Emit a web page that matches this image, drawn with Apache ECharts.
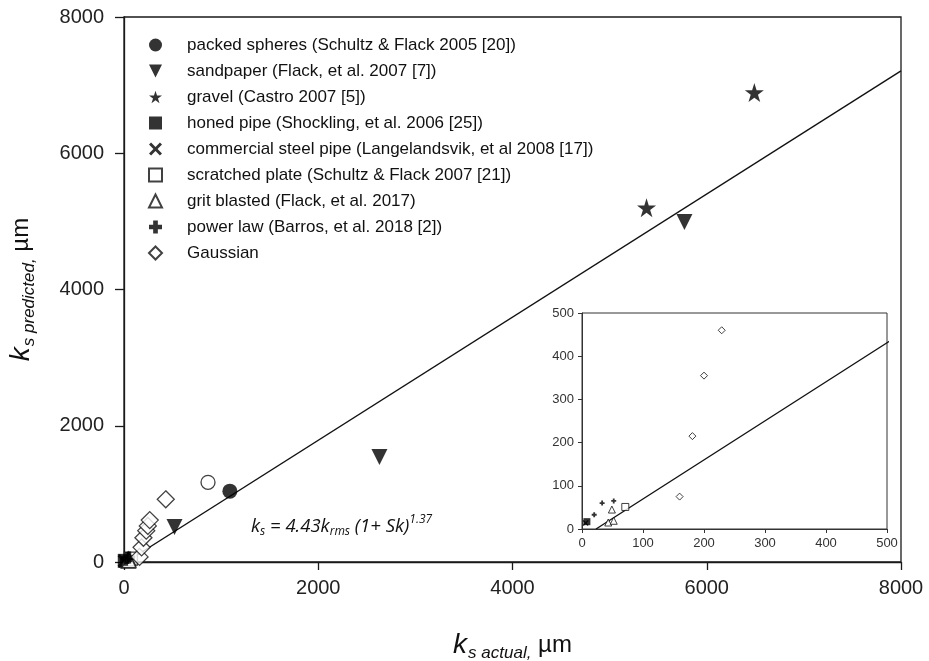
<!DOCTYPE html>
<html>
<head>
<meta charset="utf-8">
<script src="https://cdn.jsdelivr.net/npm/echarts@6/dist/echarts.min.js"></script>
<style>
  html, body { margin: 0; padding: 0; background: #fff; }
  #chart { width: 929px; height: 661px; }
</style>
</head>
<body>
<div id="chart"></div>
<script>
// Equivalent sand-grain roughness: predicted vs. measured (µm)
const packedX = [1090];            const packedY = [1040];
const packedOpenX = [865];         const packedOpenY = [1170];
const sandpaperX = [520, 2630, 5770];  const sandpaperY = [512, 1540, 4990];
const gravelX = [5380, 6490];      const gravelY = [5200, 6890];
const honedX = [8];                const honedY = [17];
const steelX = [6];                const steelY = [14];
const scratchedX = [71];           const scratchedY = [51];
const gritX = [43, 49, 52];        const gritY = [15, 45, 19];
const powerX = [20, 33, 52];       const powerY = [33, 60, 65];
const gaussX = [160, 181, 200, 229, 245, 265, 430];
const gaussY = [75, 215, 355, 460, 530, 615, 920];
const fitX = [23, 8000];           const fitY = [0, 7210];

const mainTicks = [0, 2000, 4000, 6000, 8000];
const insetTicks = [0, 100, 200, 300, 400, 500];

const seriesNames = [
  'packed spheres (Schultz & Flack 2005 [20])',
  'sandpaper (Flack, et al. 2007 [7])',
  'gravel (Castro 2007 [5])',
  'honed pipe (Shockling, et al. 2006 [25])',
  'commercial steel pipe (Langelandsvik, et al 2008 [17])',
  'scratched plate (Schultz & Flack 2007 [21])',
  'grit blasted (Flack, et al. 2017)',
  'power law (Barros, et al. 2018 [2])',
  'Gaussian'
];

const SYM = {
  tri: 'path://M0,0 L100,0 L50,100 Z',
  star: 'path://M50,0 L61.2,34.5 L97.6,34.5 L68.2,55.9 L79.4,90.5 L50,69.1 L20.6,90.5 L31.8,55.9 L2.4,34.5 L38.8,34.5 Z',
  cross: 'path://M0,16 L16,0 L50,34 L84,0 L100,16 L66,50 L100,84 L84,100 L50,66 L16,100 L0,84 L34,50 Z',
  plus: 'path://M32,0 H68 V32 H100 V68 H68 V100 H32 V68 H0 V32 H32 Z'
};

const zip = (xs, ys) => xs.map((x, i) => [x, ys[i]]);
const filled = { color: '#000', borderColor: '#000', borderWidth: 0 };
const hollow = { color: '#fff', borderColor: '#111', borderWidth: 1.3 };

// marker definitions shared by main panel and inset
const groups = [
  { name: seriesNames[0], d: zip(packedX, packedY), symbol: 'circle', size: 15, small: 7, style: filled },
  { name: seriesNames[1], d: zip(sandpaperX, sandpaperY), symbol: SYM.tri, size: 16, small: 7, style: filled },
  { name: seriesNames[2], d: zip(gravelX, gravelY), symbol: SYM.star, size: 19, small: 8, style: filled },
  { name: seriesNames[3], d: zip(honedX, honedY), symbol: 'rect', size: 14, small: 7, style: filled },
  { name: seriesNames[4], d: zip(steelX, steelY), symbol: SYM.cross, size: 14, small: 6, style: filled },
  { name: seriesNames[5], d: zip(scratchedX, scratchedY), symbol: 'rect', size: 13, small: 7, style: hollow },
  { name: seriesNames[6], d: zip(gritX, gritY), symbol: 'triangle', size: 14, small: 7, style: hollow },
  { name: seriesNames[7], d: zip(powerX, powerY), symbol: SYM.plus, size: 12, small: 5, style: filled },
  { name: seriesNames[8], d: zip(gaussX, gaussY), symbol: 'diamond', size: 17, small: 7, style: hollow },
  { name: 'packed spheres (open)', d: zip(packedOpenX, packedOpenY), symbol: 'circle', size: 14, small: 7, style: hollow }
];

const series = [];
// fitted correlation line, main and inset
[0, 1].forEach(k => {
  series.push({
    type: 'line', xAxisIndex: k, yAxisIndex: k, data: zip(fitX, fitY),
    showSymbol: false, symbol: 'none', silent: true, clip: true,
    lineStyle: { color: '#111', width: 1.4 }, z: 2
  });
});
groups.forEach(g => {
  series.push({
    type: 'scatter', name: g.name, xAxisIndex: 0, yAxisIndex: 0, data: g.d,
    symbol: g.symbol, symbolSize: g.size, itemStyle: g.style, z: 3
  });
  series.push({
    type: 'scatter', name: g.name + ' ', xAxisIndex: 1, yAxisIndex: 1, data: g.d,
    symbol: g.symbol, symbolSize: g.small, itemStyle: Object.assign({}, g.style, g.style.borderWidth ? { borderWidth: 1 } : {}), z: 3, clip: true
  });
});

const axisCol = '#1a1a1a';
const labelCol = '#222';
const sans = 'Liberation Sans, Arial, sans-serif';

const titleRich = {
  k: { fontFamily: sans, fontStyle: 'italic', fontSize: 28, color: '#111' },
  s: { fontFamily: sans, fontStyle: 'italic', fontSize: 17, color: '#111', padding: [16, 0, 0, 1] },
  u: { fontFamily: sans, fontSize: 24, color: '#111' }
};

const chart = echarts.init(document.getElementById('chart'), null, { renderer: 'canvas' });
chart.setOption({
  animation: false,
  backgroundColor: '#fff',
  grid: [
    { left: 124, right: 28, top: 17, bottom: 99, outerBoundsMode: 'none', containLabel: false,
      show: true, borderColor: axisCol, borderWidth: 1.3, backgroundColor: '#fff' },
    { left: 582, right: 42, top: 313, bottom: 132, outerBoundsMode: 'none', containLabel: false,
      show: true, borderColor: '#333', borderWidth: 1, backgroundColor: '#fff' }
  ],
  legend: {
    data: seriesNames,
    orient: 'vertical', left: 143, top: 30,
    itemWidth: 13, itemHeight: 13, itemGap: 6,
    selectedMode: false,
    textStyle: { fontFamily: sans, fontSize: 17, color: '#111', lineHeight: 20, padding: [0, 0, 0, 20] }
  },
  xAxis: [
    {
      gridIndex: 0, type: 'value', min: 0, max: 8000, interval: 2000,
      axisLine: { show: true, lineStyle: { color: axisCol, width: 1.3 } },
      axisTick: { show: true, inside: false, length: 8, lineStyle: { color: axisCol, width: 1.3 } },
      splitLine: { show: false },
      axisLabel: { margin: 16, fontFamily: sans, fontSize: 20, color: labelCol,
        formatter: v => mainTicks.includes(v) ? String(v) : '' },
      name: '{k|k}{s|s actual,}{u| µm}', nameLocation: 'middle', nameGap: 67,
      nameTextStyle: { rich: titleRich }
    },
    {
      gridIndex: 1, type: 'value', min: 0, max: 500, interval: 100,
      axisLine: { show: true, lineStyle: { color: '#333', width: 1 } },
      axisTick: { show: true, inside: false, length: 4, lineStyle: { color: '#333' } },
      splitLine: { show: false },
      axisLabel: { margin: 8, fontFamily: sans, fontSize: 13, color: '#333',
        formatter: v => insetTicks.includes(v) ? String(v) : '' }
    }
  ],
  yAxis: [
    {
      gridIndex: 0, type: 'value', min: 0, max: 8000, interval: 2000,
      axisLine: { show: true, lineStyle: { color: axisCol, width: 1.3 } },
      axisTick: { show: true, inside: false, length: 9, lineStyle: { color: axisCol, width: 1.3 } },
      splitLine: { show: false },
      axisLabel: { margin: 20, fontFamily: sans, fontSize: 20, color: labelCol,
        formatter: v => mainTicks.includes(v) ? String(v) : '' },
      name: '{k|k}{s|s predicted,}{u| µm}', nameLocation: 'middle', nameRotate: 90, nameGap: 86,
      nameTextStyle: { rich: titleRich }
    },
    {
      gridIndex: 1, type: 'value', min: 0, max: 500, interval: 100,
      axisLine: { show: true, lineStyle: { color: '#333', width: 1 } },
      axisTick: { show: true, inside: false, length: 4, lineStyle: { color: '#333' } },
      splitLine: { show: false },
      axisLabel: { margin: 8, fontFamily: sans, fontSize: 13, color: '#333',
        formatter: v => insetTicks.includes(v) ? String(v) : '' }
    }
  ],
  graphic: [
    {
      type: 'text', left: 251, top: 514, z: 10,
      style: {
        text: '{a|k}{b|s}{a| = 4.43k}{b|rms}{a| (1+ Sk)}{c|1.37}',
        rich: {
          a: { fontFamily: 'Open Sans, sans-serif', fontStyle: 'italic', fontSize: 18.5, fill: '#111', padding: [7, 0, 0, 0] },
          b: { fontFamily: 'Open Sans, sans-serif', fontStyle: 'italic', fontSize: 12, fill: '#111', padding: [17, 0, 0, 0] },
          c: { fontFamily: 'Open Sans, sans-serif', fontStyle: 'italic', fontSize: 12, fill: '#111', padding: [0, 0, 7, 0] }
        }
      }
    }
  ],
  series: series
});
</script>
</body>
</html>
